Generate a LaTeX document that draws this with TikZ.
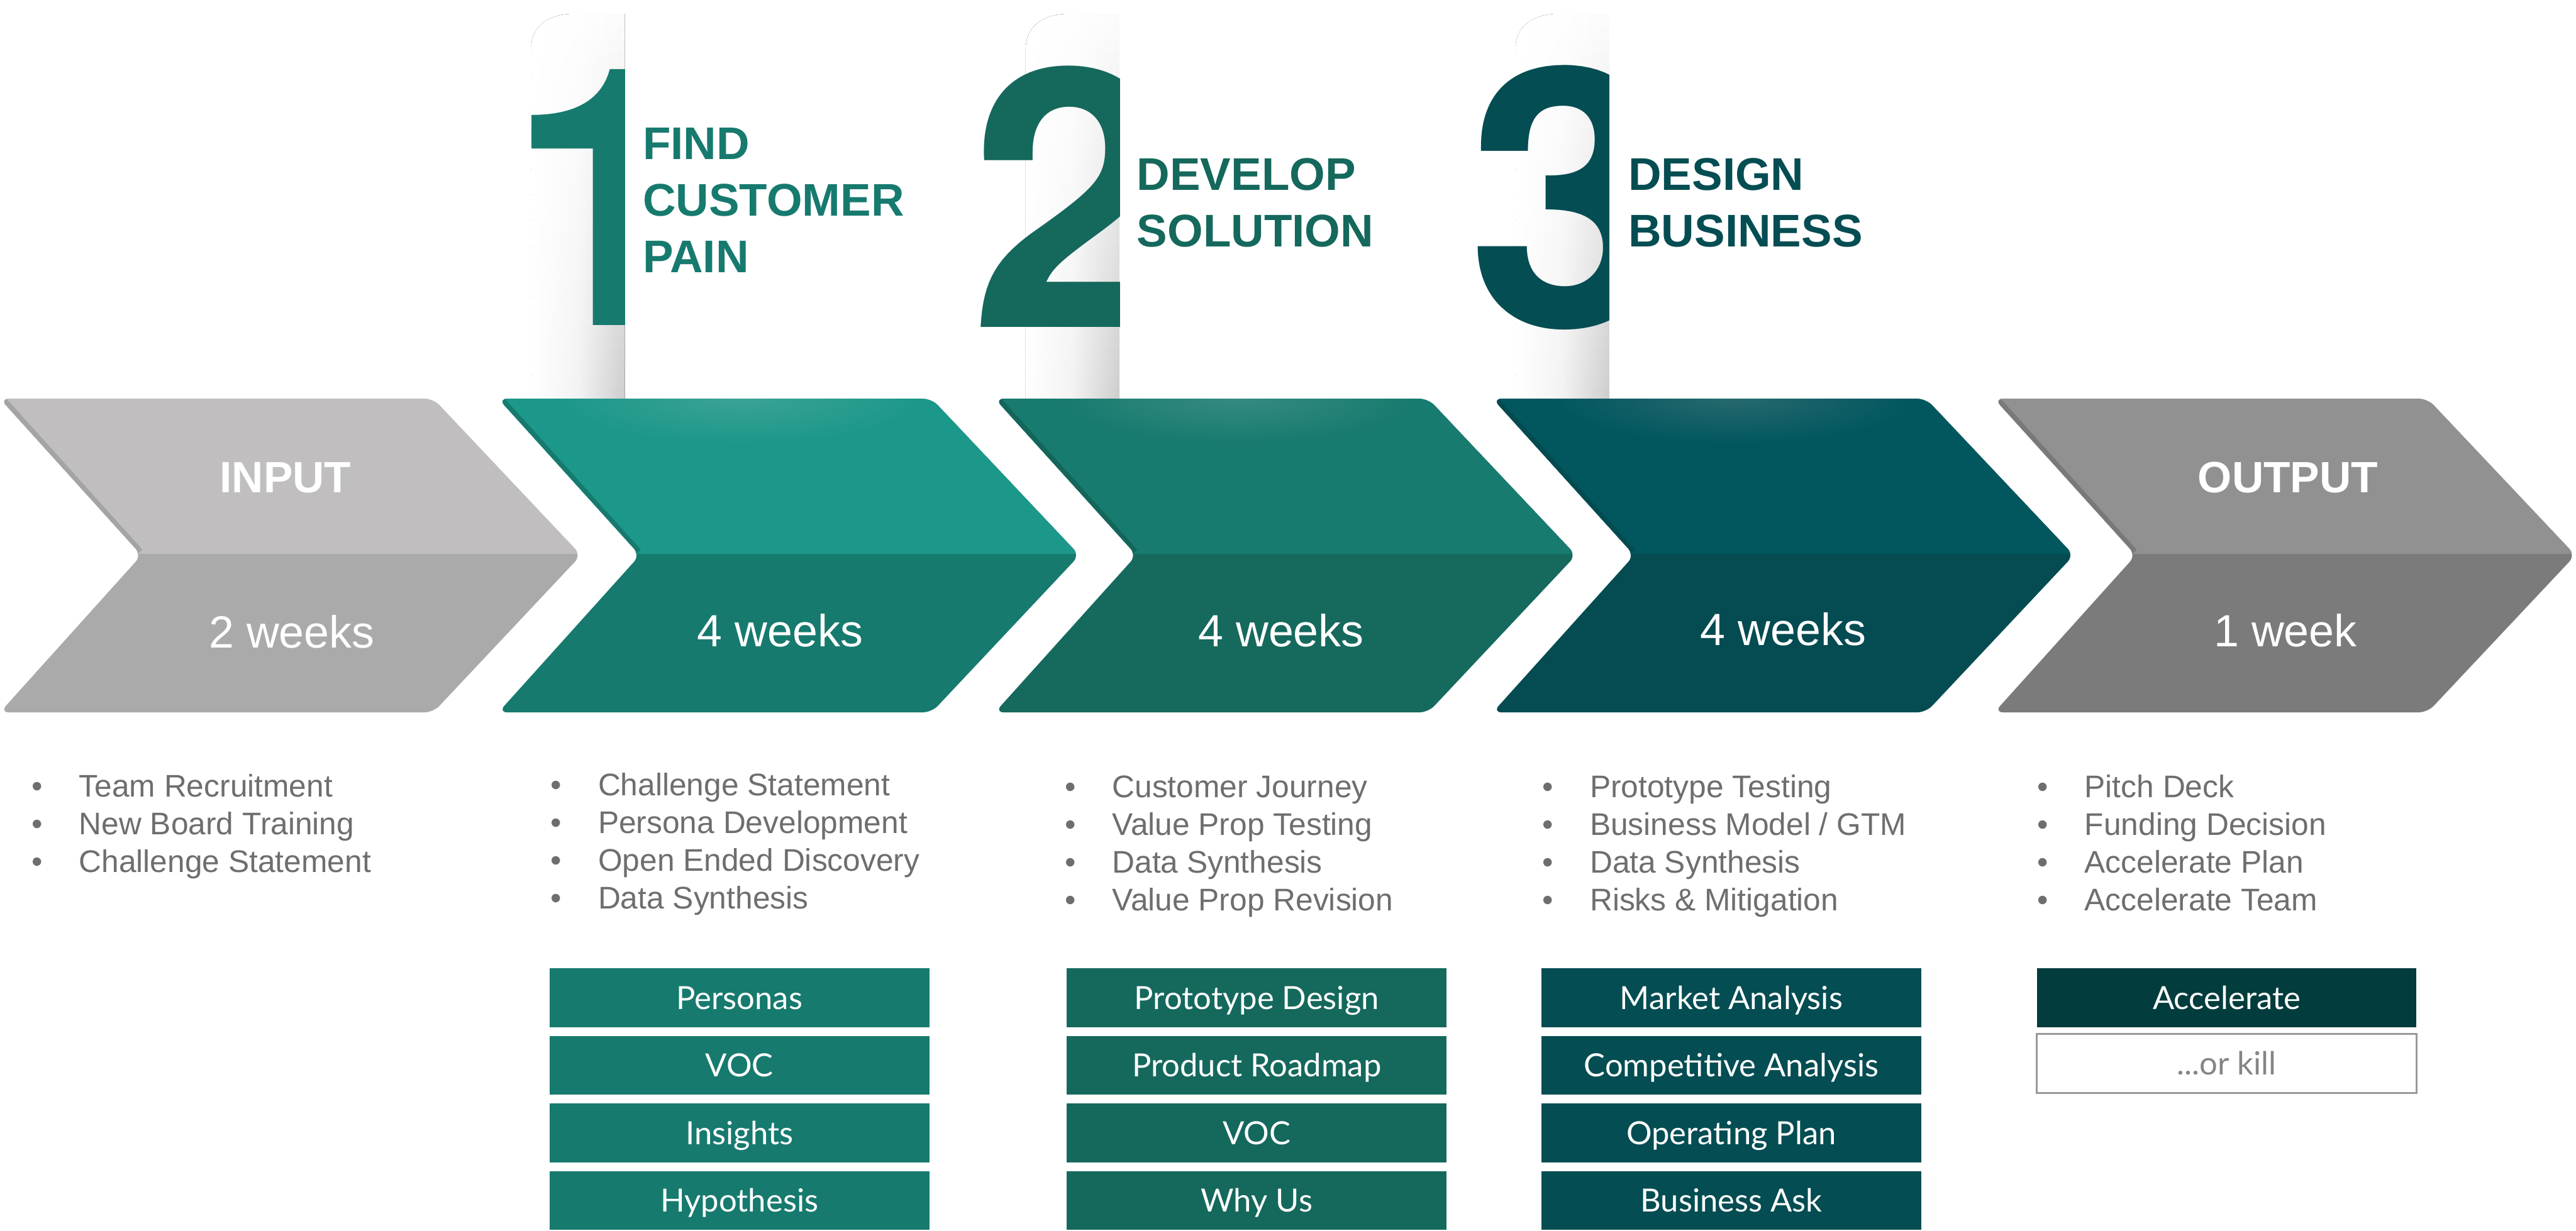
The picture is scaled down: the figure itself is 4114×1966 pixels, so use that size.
\documentclass[tikz,border=0pt]{standalone}
\usepackage{fontspec}
\setmainfont{Liberation Sans}
\newfontfamily\boxfont{Lato}
\newfontfamily\numfont{TeX Gyre Heros}
\definecolor{gTop}{HTML}{C0BEBF}
\definecolor{gBot}{HTML}{AAAAAA}
\definecolor{gEdge}{HTML}{A4A4A4}
\definecolor{aTop}{HTML}{1C988A}
\definecolor{aBot}{HTML}{177A6E}
\definecolor{aEdge}{HTML}{167A6E}
\definecolor{aHi}{HTML}{3BA296}
\definecolor{bTop}{HTML}{187B6F}
\definecolor{bBot}{HTML}{16695D}
\definecolor{bEdge}{HTML}{14655A}
\definecolor{bHi}{HTML}{368A80}
\definecolor{cTop}{HTML}{02575F}
\definecolor{cBot}{HTML}{044C52}
\definecolor{cEdge}{HTML}{034B50}
\definecolor{cHi}{HTML}{26696E}
\definecolor{dTop}{HTML}{919191}
\definecolor{dBot}{HTML}{7B7B7B}
\definecolor{dEdge}{HTML}{797979}
\definecolor{hOne}{HTML}{177A6E}
\definecolor{hTwo}{HTML}{15685C}
\definecolor{hThree}{HTML}{044D52}
\definecolor{accel}{HTML}{033C3C}
\definecolor{listgray}{HTML}{6E6E6E}
\definecolor{killgray}{HTML}{858585}
\definecolor{killborder}{HTML}{999999}
\newcommand\chevron[5]{%
  \begin{scope}
    \clip[rounded corners=4pt] (#1,637) -- (#1+692,637) -- (#1+928,887) -- (#1+692,1138) -- (#1,1138) -- (#1+226,887) -- cycle;
    \fill[#3] (#1-20,600) rectangle (#1+960,1160);
    \fill[#2] (#1-20,600) rectangle (#1+960,885);
    \shade[inner color=#5, outer color=#2] (#1+386,637) ellipse [x radius=280, y radius=70];
    \draw[#4, line width=4.2pt] (#1-5,631) -- (#1+222,883);
  \end{scope}}
\newcommand\cardshadow[1]{%
  \begin{scope}
    \clip (#1-150,637) -- (#1-150,80) .. controls (#1-150,40) and (#1-120,22) .. (#1-80,22) -- (#1,22) -- (#1,637) -- cycle;
    \foreach \k in {0,...,29}{
      \pgfmathsetmacro\ink{1.5+18*\k/29}
      \pgfmathsetmacro\inm{\ink/4}
      \fill[left color=white, right color=black!\ink, middle color=black!\inm]
        (#1-151,22+\k*20.6) rectangle (#1+1,22+\k*20.6+21.6);
    }
  \end{scope}}
\newcommand\bitem[1]{\makebox[21.5pt][l]{\textbullet}#1}
\begin{document}
\begin{tikzpicture}[x=0.01cm, y=-0.01cm,
  toplbl/.style={anchor=base, inner sep=0, text=white, font=\bfseries\fontsize{19.9pt}{22pt}\selectfont},
  wklbl/.style={anchor=base, inner sep=0, text=white, font=\fontsize{20.5pt}{23pt}\selectfont},
  num/.style={anchor=base west, inner sep=0, font=\numfont\bfseries\fontsize{164pt}{164pt}\selectfont},
  head/.style={anchor=base west, inner sep=0, font=\bfseries\fontsize{20.8pt}{25pt}\selectfont},
  blist/.style={anchor=base west, inner sep=0, text=listgray, font=\fontsize{14.2pt}{17.15pt}\selectfont},
  obox/.style={minimum width=172.4pt, minimum height=26.75pt, inner sep=0, text=white,
    text height=10.4pt, text depth=0pt, font=\boxfont\fontsize{14.5pt}{17pt}\selectfont}]
\useasboundingbox (0,0) rectangle (4114,1966);

% card shadows
\cardshadow{998}
\cardshadow{1788}
\cardshadow{2570}

% chevrons
\chevron{0}{gTop}{gBot}{gEdge}{gTop}
\chevron{796}{aTop}{aBot}{aEdge}{aHi}
\chevron{1589}{bTop}{bBot}{bEdge}{bHi}
\chevron{2384}{cTop}{cBot}{cEdge}{cHi}
\chevron{3185}{dTop}{dBot}{dEdge}{dTop}

% chevron labels
\node[toplbl] (inlbl) at (456,787) {INPUT};
\node[toplbl] (outlbl) at (3654,787) {OUTPUT};
\node[wklbl] (w0) at (466,1035) {2 weeks};
\node[wklbl] (w1) at (1246,1033) {4 weeks};
\node[wklbl] (w2) at (2046,1033) {4 weeks};
\node[wklbl] (w3) at (2848,1031) {4 weeks};
\node[wklbl] (w4) at (3650,1033) {1 week};

% big numerals, cut by the cards
\begin{scope}
  \clip (700,0) rectangle (998,640);
  \node[num, anchor=base east, text=hOne] (n1) at (1029,520) {1\kern-\XeTeXglyphbounds 3 \XeTeXcharglyph 49\relax};
\end{scope}
\begin{scope}
  \clip (1500,0) rectangle (1788,640);
  \node[num, text=hTwo] (n2) at (1566,523) {\kern-\XeTeXglyphbounds 1 \XeTeXcharglyph 50\relax 2};
\end{scope}
\begin{scope}
  \clip (2290,0) rectangle (2570,640);
  \node[num, text=hThree] (n3) at (2360,522) {\kern-\XeTeXglyphbounds 1 \XeTeXcharglyph 51\relax 3};
\end{scope}

% headings
\node[head, text=hOne] (h1a) at (1026,255) {FIND};
\node[head, text=hOne] (h1b) at (1026,345) {CUSTOMER};
\node[head, text=hOne] (h1c) at (1026,435) {PAIN};
\node[head, text=hTwo] (h2a) at (1815,303.5) {DEVELOP};
\node[head, text=hTwo] (h2b) at (1815,394.5) {SOLUTION};
\node[head, text=hThree] (h3a) at (2600,303.5) {DESIGN};
\node[head, text=hThree] (h3b) at (2600,394.5) {BUSINESS};

% bullet lists
\node[blist] (L1) at (50,1273) {\begin{tabular}[t]{@{}l@{}}\bitem{Team Recruitment}\\\bitem{New Board Training}\\\bitem{Challenge Statement}\end{tabular}};
\node[blist] (L2) at (879,1271) {\begin{tabular}[t]{@{}l@{}}\bitem{Challenge Statement}\\\bitem{Persona Development}\\\bitem{Open Ended Discovery}\\\bitem{Data Synthesis}\end{tabular}};
\node[blist] (L3) at (1700,1274) {\begin{tabular}[t]{@{}l@{}}\bitem{Customer Journey}\\\bitem{Value Prop Testing}\\\bitem{Data Synthesis}\\\bitem{Value Prop Revision}\end{tabular}};
\node[blist] (L4) at (2463,1274) {\begin{tabular}[t]{@{}l@{}}\bitem{Prototype Testing}\\\bitem{Business Model / GTM}\\\bitem{Data Synthesis}\\\bitem{Risks \& Mitigation}\end{tabular}};
\node[blist] (L5) at (3253,1274) {\begin{tabular}[t]{@{}l@{}}\bitem{Pitch Deck}\\\bitem{Funding Decision}\\\bitem{Accelerate Plan}\\\bitem{Accelerate Team}\end{tabular}};

% deliverable boxes
\node[obox, fill=hOne] (b21) at (1181,1594) {Personas};
\node[obox, fill=hOne] (b22) at (1181,1702) {VOC};
\node[obox, fill=hOne] (b23) at (1181,1810) {Insights};
\node[obox, fill=hOne] (b24) at (1181,1918) {Hypothesis};
\node[obox, fill=hTwo] (b31) at (2007,1594) {Prototype Design};
\node[obox, fill=hTwo] (b32) at (2007,1702) {Product Roadmap};
\node[obox, fill=hTwo] (b33) at (2007,1810) {VOC};
\node[obox, fill=hTwo] (b34) at (2007,1918) {Why Us};
\node[obox, fill=hThree] (b41) at (2765,1594) {Market Analysis};
\node[obox, fill=hThree] (b42) at (2765,1702) {Competitive Analysis};
\node[obox, fill=hThree] (b43) at (2765,1810) {Operating Plan};
\node[obox, fill=hThree] (b44) at (2765,1918) {Business Ask};
\node[obox, fill=accel] (b51) at (3556,1594) {Accelerate};
\node[obox, fill=white, draw=killborder, line width=0.85pt, text=killgray] (b52) at (3556,1699) {...or kill};
\end{tikzpicture}
\end{document}
